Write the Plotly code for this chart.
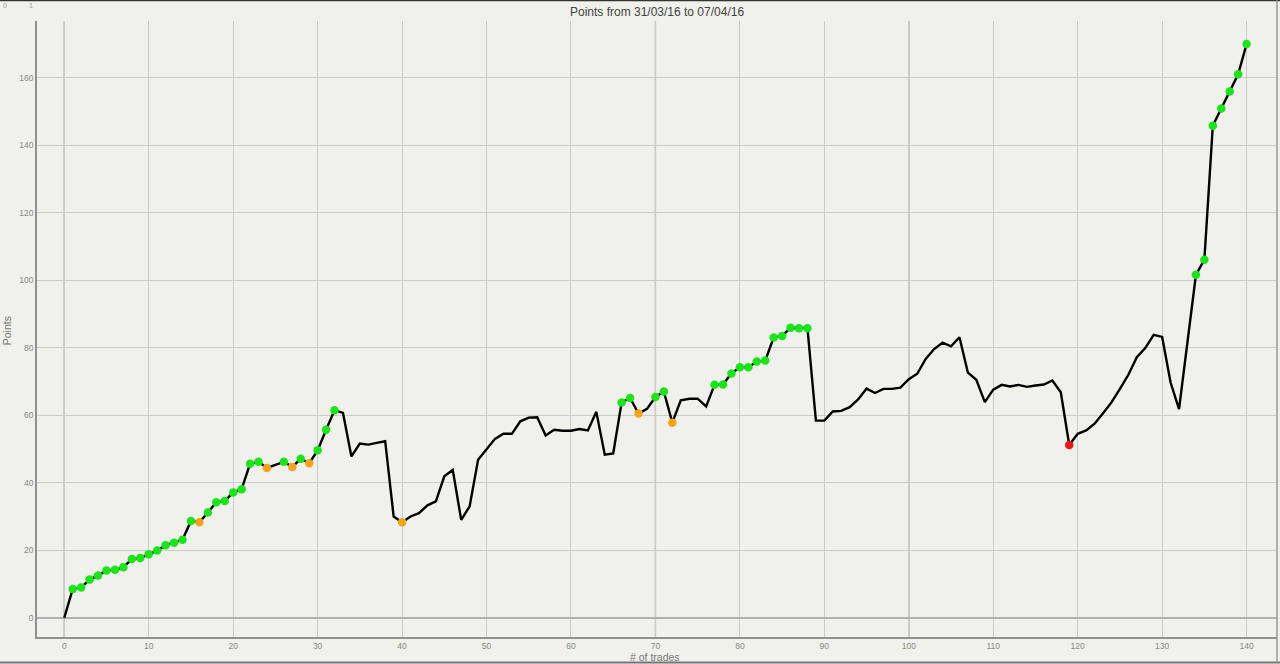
import plotly.graph_objects as go

trades = list(range(141))
points = [
    0.0, 8.5, 9.0, 11.3, 12.5, 14.0, 14.2, 15.0, 17.4, 17.7,
    18.8, 19.9, 21.5, 22.2, 23.1, 28.7, 28.3, 31.2, 34.2, 34.6,
    37.1, 38.1, 45.6, 46.2, 44.4, 45.3, 46.2, 44.7, 47.1, 45.8,
    49.6, 55.7, 61.5, 60.7, 47.8, 51.6, 51.3, 51.8, 52.3, 30.0,
    28.3, 30.0, 31.0, 33.3, 34.5, 41.9, 43.8, 29.0, 33.0, 46.8,
    49.8, 53.0, 54.5, 54.5, 58.2, 59.3, 59.4, 54.0, 55.7, 55.4,
    55.4, 55.9, 55.5, 61.0, 48.3, 48.7, 63.8, 65.1, 60.5, 61.9,
    65.4, 67.0, 57.8, 64.4, 64.9, 64.9, 62.6, 69.0, 69.1, 72.4,
    74.2, 74.2, 75.9, 76.2, 83.0, 83.5, 85.9, 85.8, 85.8, 58.4,
    58.4, 61.1, 61.3, 62.4, 64.7, 67.9, 66.6, 67.8, 67.8, 68.2,
    70.7, 72.3, 76.7, 79.6, 81.5, 80.4, 83.1, 72.6, 70.5, 63.9,
    67.6, 69.0, 68.5, 69.0, 68.4, 68.8, 69.1, 70.3, 66.8, 51.2,
    54.5, 55.5, 57.5, 60.6, 63.8, 67.8, 72.0, 77.2, 79.9, 83.8,
    83.2, 69.7, 61.8, 81.7, 101.6, 106.1, 145.8, 150.9, 155.9, 161.0,
    170.0,
]
# marker kind per trade: g = green, o = orange, r = red, '' = none
marker_kind = (
    [""] + ["g"] * 15 + ["o"] + ["g"] * 7 + ["o", "", "g", "o", "g", "o", "g", "g", "g"]
    + [""] * 7 + ["o"] + [""] * 25
    + ["g", "g", "o", "", "g", "g", "o", "", "", "", ""] + ["g"] * 12
    + [""] * 30 + ["r"] + [""] * 14 + ["g"] * 7
)
kind_colors = {"g": "#19e619", "o": "#f5a31a", "r": "#f01414"}

title_text = "Points from 31/03/16 to 07/04/16"
x_title = "# of trades"
y_title = "Points"
x_ticks = list(range(0, 141, 10))
y_ticks = list(range(0, 161, 20))
marked_x = [70]
dark_x = [0, 100]

mx = [t for t, k in zip(trades, marker_kind) if k]
my = [p for p, k in zip(points, marker_kind) if k]
mc = [kind_colors[k] for k in marker_kind if k]

fig = go.Figure()
fig.add_trace(go.Scatter(x=trades, y=points, mode="lines",
                         line=dict(color="black", width=2.4), hoverinfo="skip"))
fig.add_trace(go.Scatter(x=mx, y=my, mode="markers",
                         marker=dict(color=mc, size=8.5, line=dict(width=0))))

bg = "#f0f0ec"
shapes = []
for xv in dark_x:
    shapes.append(dict(type="line", xref="x", yref="paper", x0=xv, x1=xv, y0=0, y1=1,
                       line=dict(color="#8a8a8a", width=1.2), layer="between"))
for xv in marked_x:
    shapes.append(dict(type="line", xref="x", yref="paper", x0=xv, x1=xv, y0=0, y1=1,
                       line=dict(color="#dc5a5a", width=1.2), layer="between"))
# outer frame lines
shapes.append(dict(type="line", xref="paper", yref="paper", x0=-0.04, x1=1.01, y0=1.0335, y1=1.0335,
                   line=dict(color="#333333", width=2)))
shapes.append(dict(type="line", xref="paper", yref="paper", x0=-0.04, x1=1.01, y0=-0.0415, y1=-0.0415,
                   line=dict(color="#777777", width=2)))
shapes.append(dict(type="line", xref="paper", yref="paper", x0=1.0, x1=1.0, y0=-0.0415, y1=1.0335,
                   line=dict(color="#9a9a9a", width=1.5)))

annotations = [
    dict(text=x_title, xref="paper", yref="paper", x=0.4985, y=-0.0325, showarrow=False,
         font=dict(size=10.5, color="#777777", family="Liberation Sans"), yanchor="middle"),
    dict(text=y_title, xref="paper", yref="paper", x=-0.0242, y=0.498, showarrow=False, textangle=-90,
         font=dict(size=10.5, color="#777777", family="Liberation Sans"), xanchor="center"),
    dict(text="0", xref="paper", yref="paper", x=-0.0290, y=1.0245, showarrow=False,
         font=dict(size=7, color="#999999"), xanchor="left", yanchor="middle"),
    dict(text="1", xref="paper", yref="paper", x=-0.0048, y=1.0245, showarrow=False,
         font=dict(size=7, color="#999999"), xanchor="center", yanchor="middle"),
]

fig.update_layout(
    width=1280, height=664,
    margin=dict(l=37, r=3, t=21, b=27),
    paper_bgcolor=bg, plot_bgcolor=bg,
    showlegend=False,
    title=dict(text=title_text, x=0.5133, xanchor="center", y=0.982, yanchor="middle",
               font=dict(size=12, color="#444444", family="Liberation Sans")),
    font=dict(family="Liberation Sans", size=8, color="#888888"),
    shapes=shapes, annotations=annotations,
    xaxis=dict(range=[-3.23, 143.6], tickvals=x_ticks, showgrid=True, gridcolor="#cbcbcb",
               gridwidth=1, zeroline=False, showline=True, linecolor="#909090", linewidth=1.5,
               ticks="", tickfont=dict(size=8.5, color="#888888")),
    yaxis=dict(range=[-5.7, 176.8], tickvals=y_ticks, showgrid=True, gridcolor="#cbcbcb",
               gridwidth=1, zeroline=True, zerolinecolor="#b0b0b0", zerolinewidth=2,
               showline=True, linecolor="#909090", linewidth=1.5,
               ticks="", tickfont=dict(size=8.5, color="#888888")),
)

fig.write_html("out.html", config={"displayModeBar": False},
               post_script="document.body.style.margin='0';document.body.style.overflow='hidden';")
